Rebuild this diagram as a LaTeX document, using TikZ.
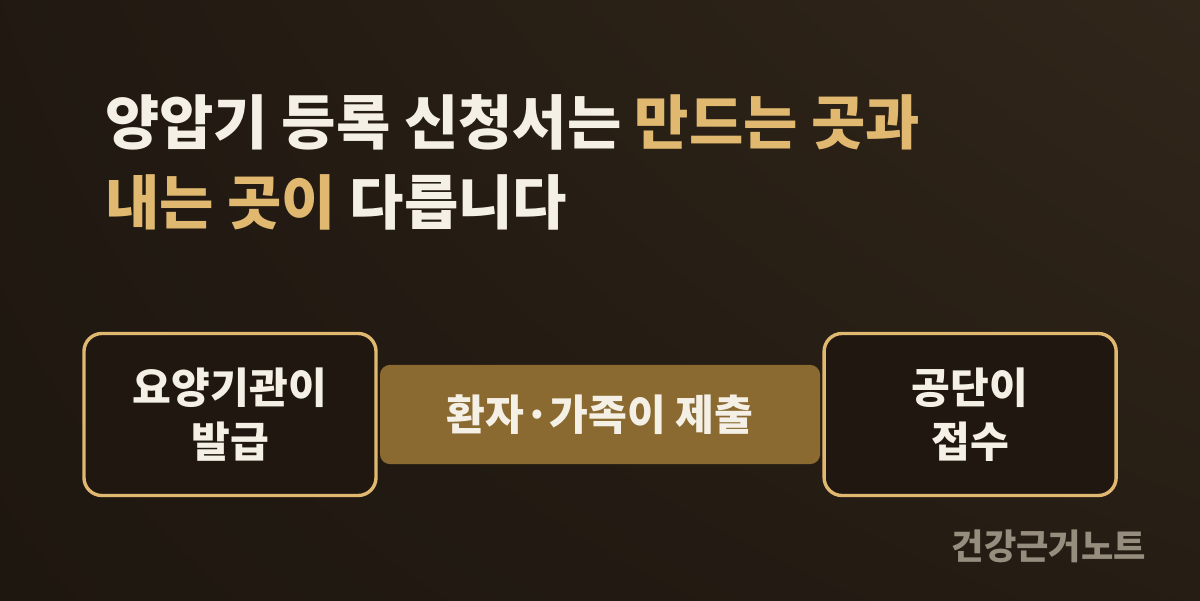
\documentclass[tikz,border=0pt]{standalone}
\usepackage{fontspec}
\usepackage{xcolor}
\usetikzlibrary{positioning, shadings}
\newfontfamily\krfont{Noto Sans CJK KR}
\definecolor{BgDark}{HTML}{1E1710}
\definecolor{BgWarm}{HTML}{31261A}
\definecolor{CreamWhite}{HTML}{F5F0E6}
\definecolor{SoftGold}{HTML}{E0B870}
\definecolor{BarBrown}{HTML}{8A6A30}
\definecolor{BoxFill}{HTML}{201810}
\definecolor{NoteGrey}{HTML}{978D7E}

\begin{document}
\begin{tikzpicture}[x=0.025cm, y=0.025cm, every node/.style={font=\krfont\bfseries, text=CreamWhite, inner sep=0pt}, align=center]
  \tikzset{
    endbox/.style={draw=SoftGold, line width=2.4pt, fill=BoxFill, rounded corners=0.45cm,
      minimum width=7.3cm, minimum height=4.05cm, font=\krfont\bfseries\fontsize{30}{38.5}\selectfont},
    midbar/.style={fill=BarBrown, rounded corners=0.25cm, minimum width=11cm, minimum height=2.48cm,
      font=\krfont\bfseries\fontsize{30}{38}\selectfont},
    headline/.style={anchor=west, font=\krfont\bfseries\fontsize{42}{50}\selectfont}
  }
  % background
  \shade[upper left=BgDark!85!BgWarm, upper right=BgWarm, lower left=BgDark, lower right=BgDark!60!BgWarm] (0,0) rectangle (1200,600);
  \useasboundingbox (0,0) rectangle (1200,600);

  % title
  \node (line1) [headline] at (105,478) {양압기 등록 신청서는 \textcolor{SoftGold}{만드는 곳과}};
  \node (line2) [headline] at (105,398) {\textcolor{SoftGold}{내는 곳이} 다릅니다};

  % flow
  \node (issue) [endbox] at (230,185.5) {요양기관이\\발급};
  \node (submit) [midbar, right=0.05cm of issue] {환자·가족이 제출};
  \node (receive) [endbox, right=0.05cm of submit] {공단이\\접수};

  % footer
  \node (brand) [anchor=east, text=NoteGrey, font=\krfont\bfseries\fontsize{25}{30}\selectfont] at (1146,54) {건강근거노트};
\end{tikzpicture}
\end{document}
